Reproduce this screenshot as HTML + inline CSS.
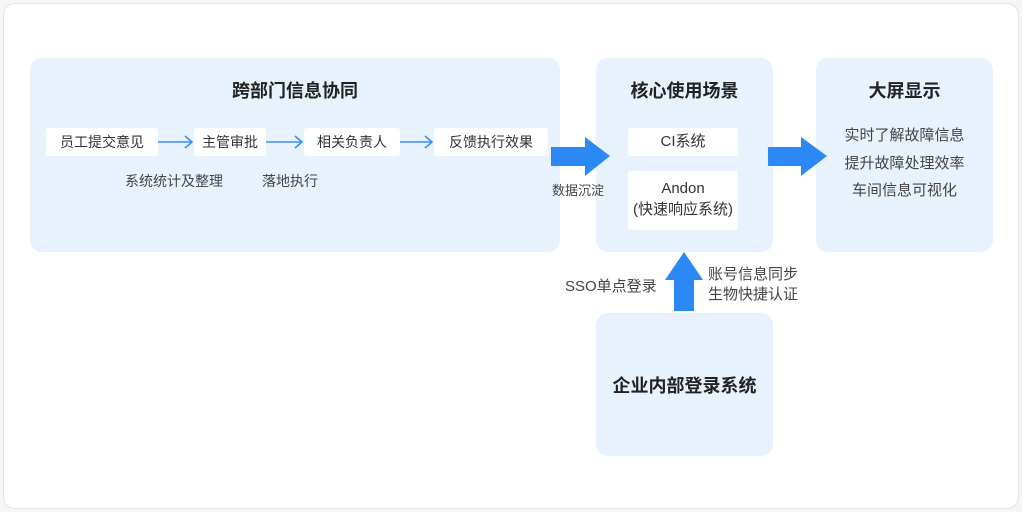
<!DOCTYPE html>
<html><head><meta charset="utf-8"><style>
body{margin:0;width:1022px;height:512px;background:#f4f5f7;font-family:"Liberation Sans","Noto Sans CJK SC",sans-serif;color:#333;}
.a{position:absolute}
.card{position:absolute;left:3px;top:3px;width:1014px;height:504px;background:#fff;border:1px solid #e3e5e8;border-radius:12px;}
.p{position:absolute;background:#e8f2fd;border-radius:12px;}
.b{position:absolute;background:#fff;border-radius:3px;font-size:14px;text-align:center;line-height:28px;color:#333}
.t{position:absolute;font-size:18px;font-weight:bold;color:#222;text-align:center}
.s{position:absolute;font-size:14px;color:#444;white-space:nowrap}
</style></head><body>
<div class="card"></div>
<div class="p" style="left:30px;top:58px;width:530px;height:194px"></div>
<div class="p" style="left:596px;top:58px;width:177px;height:194px"></div>
<div class="p" style="left:816px;top:58px;width:177px;height:194px"></div>
<div class="p" style="left:596px;top:313px;width:177px;height:143px"></div>
<div class="t" style="left:30px;top:77px;width:530px">跨部门信息协同</div>
<div class="t" style="left:596px;top:77px;width:177px">核心使用场景</div>
<div class="t" style="left:816px;top:77px;width:177px">大屏显示</div>
<div class="t" style="left:596px;top:372px;width:177px">企业内部登录系统</div>
<div class="b" style="left:46px;top:128px;width:112px">员工提交意见</div>
<div class="b" style="left:194px;top:128px;width:72px">主管审批</div>
<div class="b" style="left:304px;top:128px;width:96px">相关负责人</div>
<div class="b" style="left:434px;top:128px;width:114px">反馈执行效果</div>
<div class="b" style="left:628px;top:128px;width:110px;font-size:15px">CI系统</div>
<div class="b" style="left:628px;top:171px;width:110px;height:59px;line-height:21px;padding-top:7px;box-sizing:border-box;font-size:15px">Andon<br>(快速响应系统)</div>
<div class="s" style="left:125px;top:171px">系统统计及整理</div>
<div class="s" style="left:262px;top:171px">落地执行</div>
<div class="s" style="left:552px;top:180px;font-size:13px">数据沉淀</div>
<div class="s" style="left:565px;top:275px;font-size:15px">SSO单点登录</div>
<div class="s" style="left:708px;top:265px;font-size:15px;line-height:20px">账号信息同步<br>生物快捷认证</div>
<div class="s" style="left:816px;top:122px;width:177px;text-align:center;font-size:15px;line-height:27.5px">实时了解故障信息<br>提升故障处理效率<br>车间信息可视化</div>
<svg class="a" style="left:0;top:0" width="1022" height="512">
<g stroke="#3a8ef6" stroke-width="1.6" fill="none">
<path d="M158 142H192M185 136L192 142L185 148"/>
<path d="M266 142H302M295 136L302 142L295 148"/>
<path d="M400 142H432M425 136L432 142L425 148"/>
</g>
<g fill="#2b88f5">
<path d="M551 147H585V137L610 156L585 176V166H551Z"/>
<path d="M768 147H801V137L827 156L801 176V166H768Z"/>
<path d="M674 311V280H665L684 252L703 280H694V311Z"/>
</g>
</svg>
</body></html>
